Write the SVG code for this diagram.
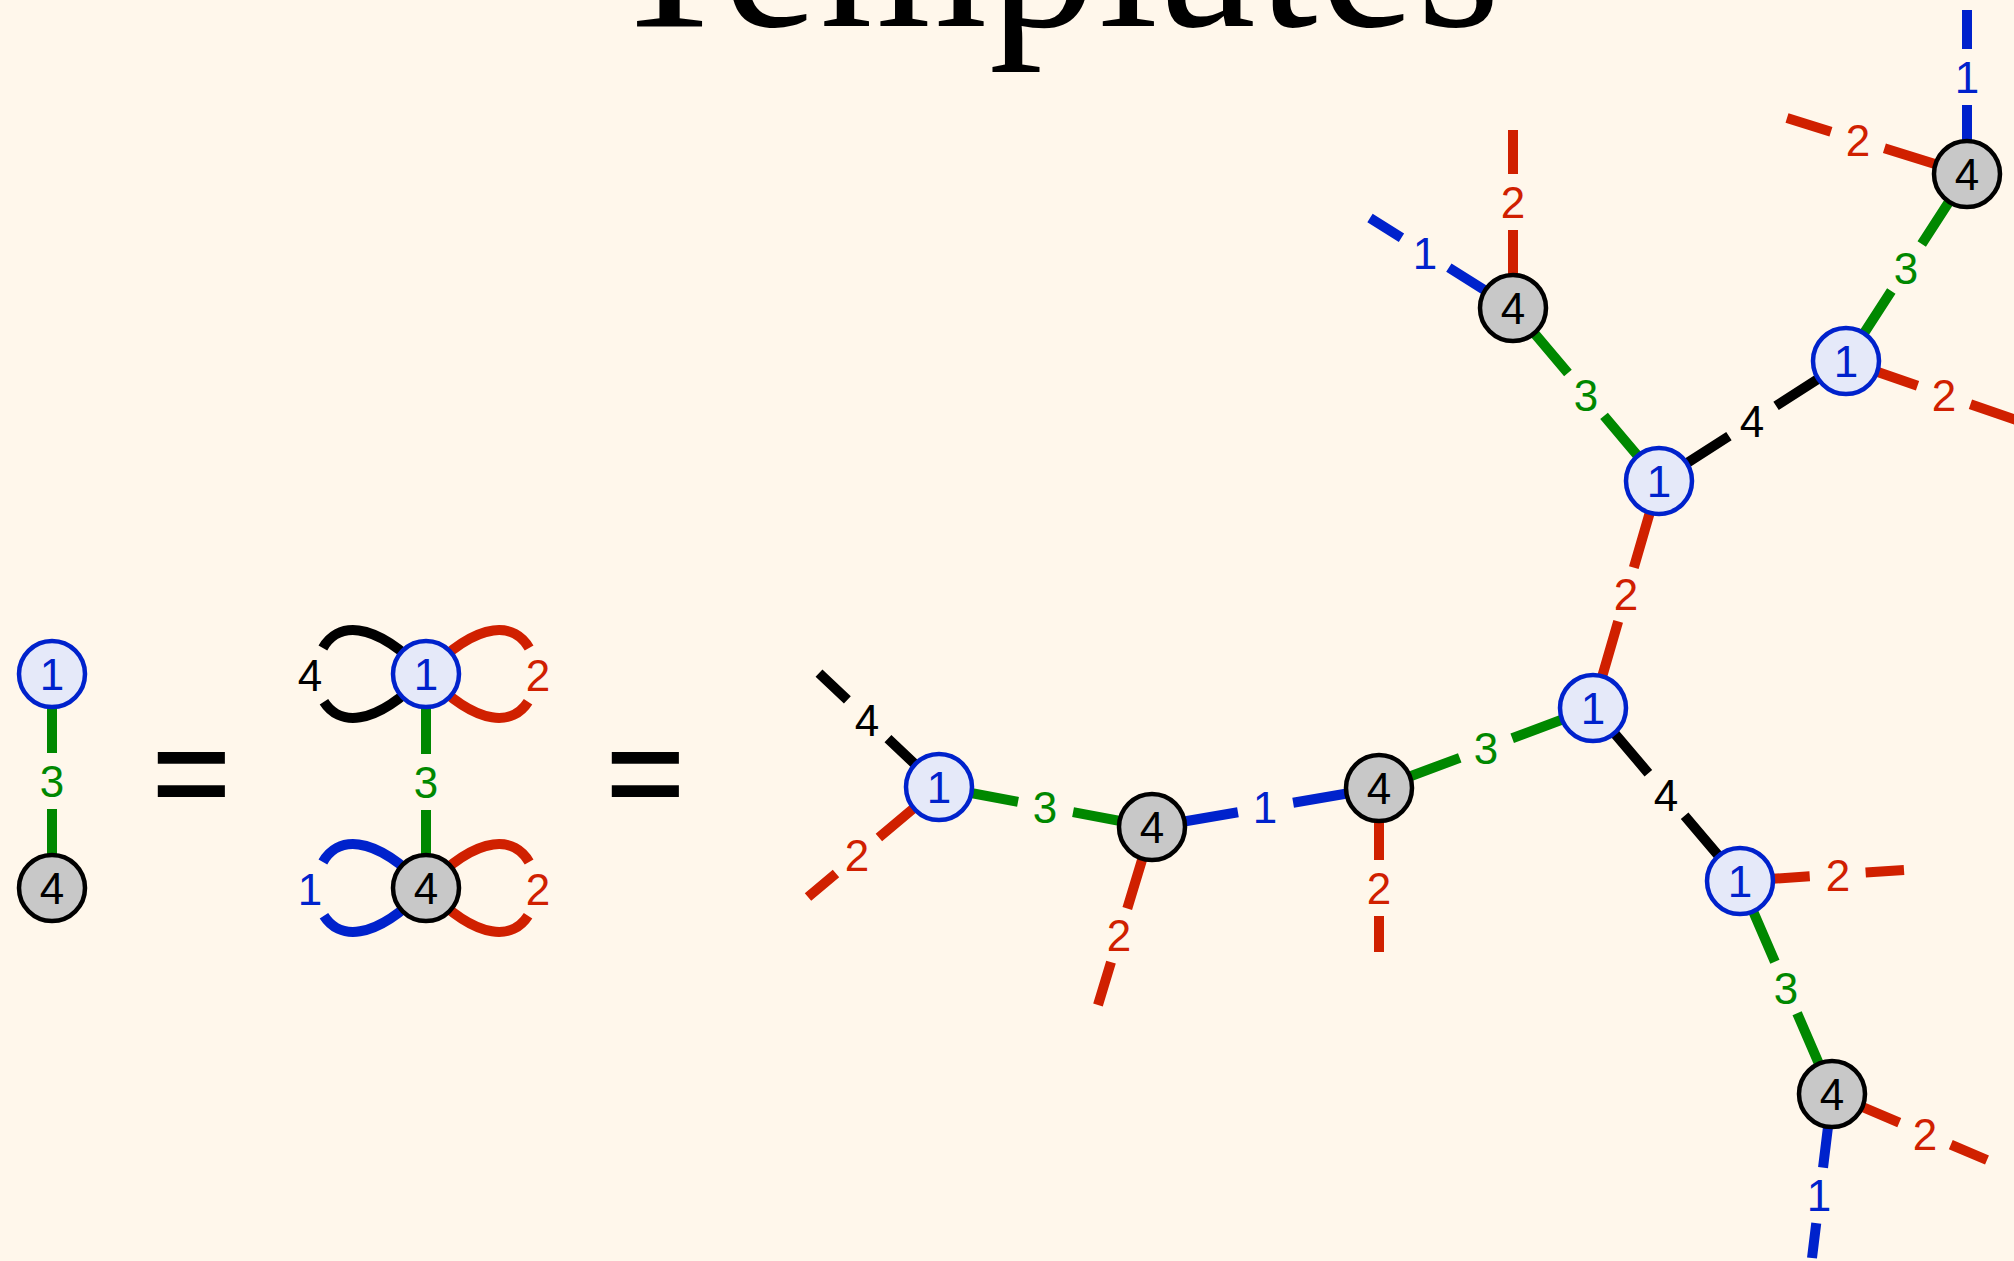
<svg xmlns="http://www.w3.org/2000/svg" width="2014" height="1261" viewBox="0 0 2014 1261">
<style>
.e{fill:none;stroke-width:10;stroke-linecap:butt}
.b{stroke:#0022cc}.r{stroke:#d02000}.g{stroke:#008800}.k{stroke:#000}
.lbl{font-family:"Liberation Sans",Arial,Helvetica,sans-serif;font-size:44px;text-anchor:middle}
.tb{fill:#0022cc}.tr{fill:#d02000}.tg{fill:#008800}.tk{fill:#000}
.n1 circle{fill:#e5e9f9;stroke:#0022cc;stroke-width:4.5}
.n4 circle{fill:#c8c8c8;stroke:#000;stroke-width:4.5}
.eq{font-family:"Liberation Sans",Arial,sans-serif;font-size:134px;text-anchor:middle;fill:#000;stroke:#000;stroke-width:2}
</style>
<rect width="2014" height="1261" fill="#fff7eb"/>
<text x="604" y="26" font-family="Liberation Serif,Times New Roman,serif" font-size="215" letter-spacing="2" fill="#000">Templates</text>
<text class="eq" x="191.5" y="818">=</text>
<text class="eq" x="645.5" y="818">=</text>
<g id="connectors">
<line class="e g" x1="52" y1="674" x2="52" y2="888" stroke-dasharray="79 56 999"/>
<line class="e g" x1="426" y1="674" x2="426" y2="888" stroke-dasharray="80 56 999"/>
<path class="e k" d="M426,674 C280,522 280,826 426,674" stroke-dasharray="124 56 300"/>
<path class="e r" d="M426,674 C572,522 572,826 426,674" stroke-dasharray="124 56 300"/>
<path class="e b" d="M426,888 C280,736 280,1040 426,888" stroke-dasharray="124 56 300"/>
<path class="e r" d="M426,888 C572,736 572,1040 426,888" stroke-dasharray="124 56 300"/>
<line class="e g" x1="939" y1="787" x2="1152" y2="827" stroke-dasharray="80.4 56 999"/>
<line class="e b" x1="1152" y1="827" x2="1379" y2="788" stroke-dasharray="87.2 56 999"/>
<line class="e g" x1="1379" y1="788" x2="1593" y2="708" stroke-dasharray="86.2 56 999"/>
<line class="e r" x1="1593" y1="708" x2="1659" y2="481" stroke-dasharray="90.2 56 999"/>
<line class="e k" x1="1593" y1="708" x2="1740" y2="881" stroke-dasharray="85.5 56 999"/>
<line class="e g" x1="1659" y1="481" x2="1513" y2="308" stroke-dasharray="85.2 56 999"/>
<line class="e k" x1="1659" y1="481" x2="1846" y2="361" stroke-dasharray="83.1 56 999"/>
<line class="e g" x1="1846" y1="361" x2="1967" y2="174" stroke-dasharray="83.4 56 999"/>
<line class="e g" x1="1740" y1="881" x2="1832" y2="1094" stroke-dasharray="88 56 999"/>
<line class="e k" x1="939" y1="787" x2="819" y2="673" stroke-dasharray="70.4 56 999"/>
<line class="e r" x1="939" y1="787" x2="808" y2="897" stroke-dasharray="78.5 56 999"/>
<line class="e r" x1="1152" y1="827" x2="1098" y2="1005" stroke-dasharray="85.2 56 999"/>
<line class="e r" x1="1379" y1="788" x2="1379" y2="952" stroke-dasharray="72 56 999"/>
<line class="e r" x1="1513" y1="308" x2="1513" y2="130" stroke-dasharray="78 56 999"/>
<line class="e b" x1="1513" y1="308" x2="1370" y2="218" stroke-dasharray="75.8 56 999"/>
<line class="e r" x1="1846" y1="361" x2="2016" y2="420" stroke-dasharray="75.7 56 999"/>
<line class="e r" x1="1967" y1="174" x2="1787" y2="118" stroke-dasharray="86.5 56 999"/>
<line class="e b" x1="1967" y1="174" x2="1967" y2="10" stroke-dasharray="69 56 999"/>
<line class="e r" x1="1740" y1="881" x2="1904" y2="870" stroke-dasharray="69.9 56 999"/>
<line class="e r" x1="1832" y1="1094" x2="1987" y2="1160" stroke-dasharray="73.1 56 999"/>
<line class="e b" x1="1832" y1="1094" x2="1812" y2="1258" stroke-dasharray="74.1 56 999"/>
<text class="lbl tg" x="52" y="797">3</text>
<text class="lbl tg" x="426" y="798">3</text>
<text class="lbl tk" x="310" y="691">4</text>
<text class="lbl tr" x="538" y="691">2</text>
<text class="lbl tb" x="310" y="905">1</text>
<text class="lbl tr" x="538" y="905">2</text>
<text class="lbl tg" x="1045" y="823">3</text>
<text class="lbl tb" x="1265" y="823">1</text>
<text class="lbl tg" x="1486" y="764">3</text>
<text class="lbl tr" x="1626" y="610">2</text>
<text class="lbl tk" x="1666" y="811">4</text>
<text class="lbl tg" x="1586" y="411">3</text>
<text class="lbl tk" x="1752" y="437">4</text>
<text class="lbl tg" x="1906" y="284">3</text>
<text class="lbl tg" x="1786" y="1004">3</text>
<text class="lbl tk" x="867" y="736">4</text>
<text class="lbl tr" x="857" y="871">2</text>
<text class="lbl tr" x="1119" y="951">2</text>
<text class="lbl tr" x="1379" y="904">2</text>
<text class="lbl tr" x="1513" y="218">2</text>
<text class="lbl tb" x="1425" y="269">1</text>
<text class="lbl tr" x="1944" y="411">2</text>
<text class="lbl tr" x="1858" y="156">2</text>
<text class="lbl tb" x="1967" y="93">1</text>
<text class="lbl tr" x="1838" y="891">2</text>
<text class="lbl tr" x="1925" y="1150">2</text>
<text class="lbl tb" x="1819" y="1211">1</text>
</g>
<g id="nodeL1" class="n1"><circle cx="52" cy="674" r="33"/><text class="lbl tb" x="52" y="690">1</text></g>
<g id="nodeL4" class="n4"><circle cx="52" cy="888" r="33"/><text class="lbl tk" x="52" y="904">4</text></g>
<g id="nodeM1" class="n1"><circle cx="426" cy="674" r="33"/><text class="lbl tb" x="426" y="690">1</text></g>
<g id="nodeM4" class="n4"><circle cx="426" cy="888" r="33"/><text class="lbl tk" x="426" y="904">4</text></g>
<g id="nodeA" class="n1"><circle cx="939" cy="787" r="33"/><text class="lbl tb" x="939" y="803">1</text></g>
<g id="nodeB" class="n4"><circle cx="1152" cy="827" r="33"/><text class="lbl tk" x="1152" y="843">4</text></g>
<g id="nodeC" class="n4"><circle cx="1379" cy="788" r="33"/><text class="lbl tk" x="1379" y="804">4</text></g>
<g id="nodeD" class="n1"><circle cx="1593" cy="708" r="33"/><text class="lbl tb" x="1593" y="724">1</text></g>
<g id="nodeE" class="n1"><circle cx="1659" cy="481" r="33"/><text class="lbl tb" x="1659" y="497">1</text></g>
<g id="nodeF" class="n4"><circle cx="1513" cy="308" r="33"/><text class="lbl tk" x="1513" y="324">4</text></g>
<g id="nodeG" class="n1"><circle cx="1846" cy="361" r="33"/><text class="lbl tb" x="1846" y="377">1</text></g>
<g id="nodeH" class="n4"><circle cx="1967" cy="174" r="33"/><text class="lbl tk" x="1967" y="190">4</text></g>
<g id="nodeI" class="n1"><circle cx="1740" cy="881" r="33"/><text class="lbl tb" x="1740" y="897">1</text></g>
<g id="nodeJ" class="n4"><circle cx="1832" cy="1094" r="33"/><text class="lbl tk" x="1832" y="1110">4</text></g>
</svg>
